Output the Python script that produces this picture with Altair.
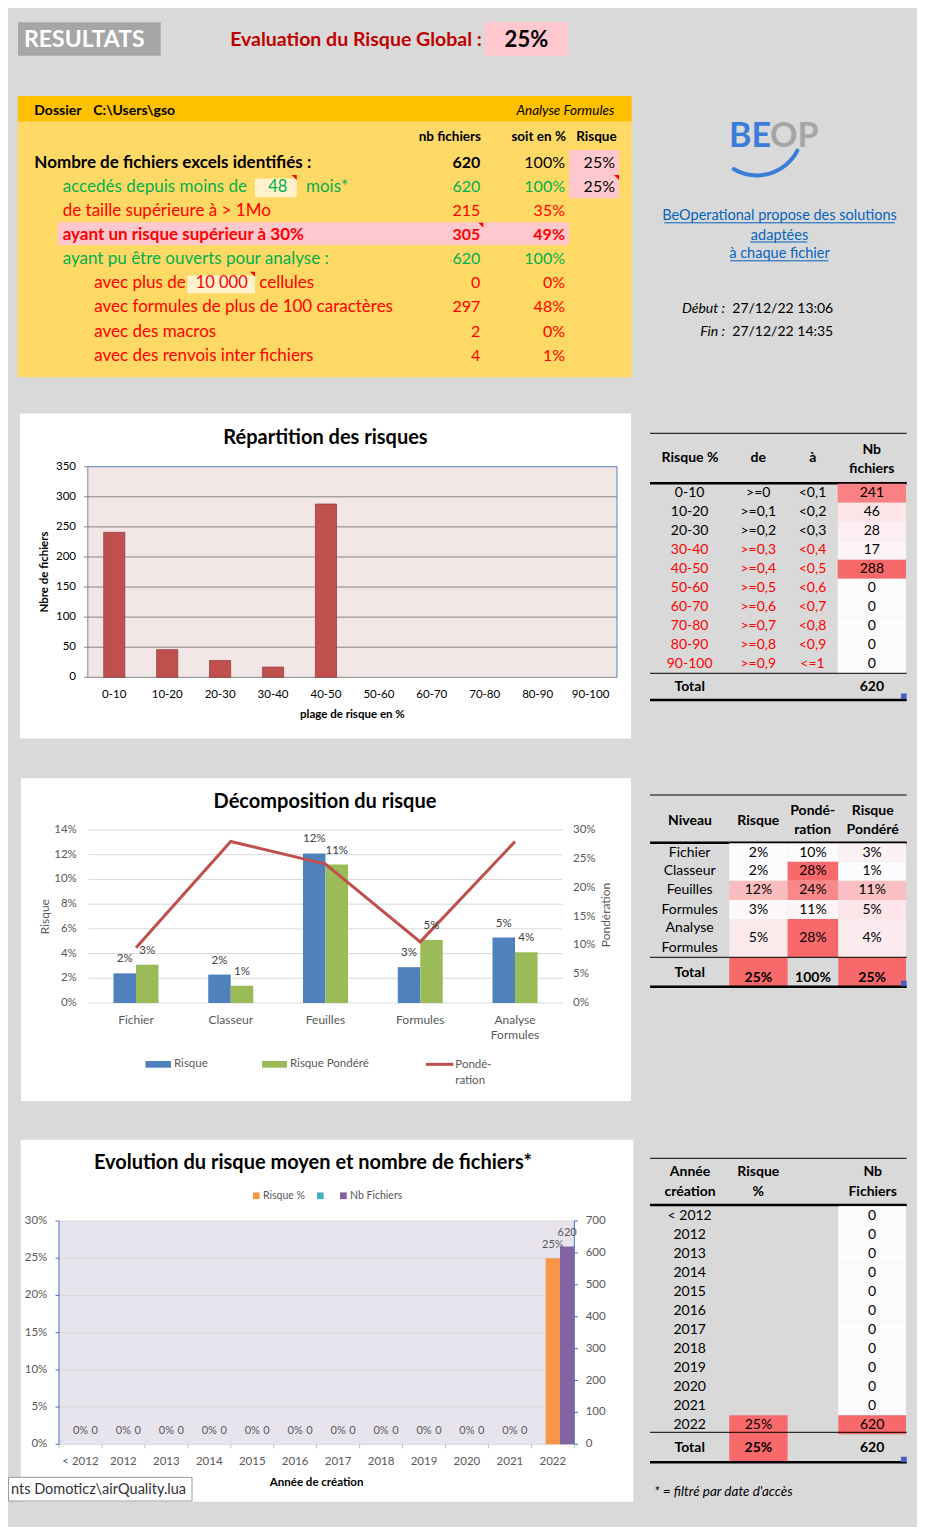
import altair as alt
import pandas as pd

# =============================== DATA ===============================
global_risk = [0.25]
dossier_path = ["C:\\Users\\gso"]
start_time = ["27/12/22 13:06"]
end_time = ["27/12/22 14:35"]

resume_label = ["Nombre de fichiers excels identifiés :", "accedés depuis moins de",
                "de taille supérieure à > 1Mo", "ayant un risque supérieur à 30%",
                "ayant pu être ouverts pour analyse :", "avec plus de",
                "avec formules de plus de 100 caractères", "avec des macros",
                "avec des renvois inter fichiers"]
resume_level = [0, 1, 1, 1, 1, 2, 2, 2, 2]
resume_kind = ["total", "ok", "alert", "alert", "ok", "alert", "alert", "alert", "alert"]
resume_nb = [620, 620, 215, 305, 620, 0, 297, 2, 4]
resume_pct = [1.0, 1.0, 0.347, 0.492, 1.0, 0.0, 0.479, 0.003, 0.006]
resume_risk = [0.25, 0.25, None, None, None, None, None, None, None]
months_input = ["48"]
cells_input = ["10 000"]

risk_bins = ["0-10", "10-20", "20-30", "30-40", "40-50", "50-60", "60-70", "70-80", "80-90", "90-100"]
bin_from = [">=0", ">=0,1", ">=0,2", ">=0,3", ">=0,4", ">=0,5", ">=0,6", ">=0,7", ">=0,8", ">=0,9"]
bin_to = ["<0,1", "<0,2", "<0,3", "<0,4", "<0,5", "<0,6", "<0,7", "<0,8", "<0,9", "<=1"]
bin_files = [241, 46, 28, 17, 288, 0, 0, 0, 0, 0]
bin_total = [620]
ticks1 = [0, 50, 100, 150, 200, 250, 300, 350]

levels = ["Fichier", "Classeur", "Feuilles", "Formules", "Analyse Formules"]
level_risk = [0.024, 0.023, 0.121, 0.029, 0.053]
level_weight = [0.096, 0.28, 0.241, 0.106, 0.28]
level_wrisk = [0.031, 0.014, 0.112, 0.051, 0.041]
level_total = [0.25, 1.0, 0.25]
ticks2_left = [0, 0.02, 0.04, 0.06, 0.08, 0.10, 0.12, 0.14]
ticks2_right = [0, 0.05, 0.10, 0.15, 0.20, 0.25, 0.30]
series2 = ["Risque", "Risque Pondéré"]

years = ["< 2012", "2012", "2013", "2014", "2015", "2016", "2017", "2018", "2019", "2020", "2021", "2022"]
year_risk = [0, 0, 0, 0, 0, 0, 0, 0, 0, 0, 0, 0.25]
year_files = [0, 0, 0, 0, 0, 0, 0, 0, 0, 0, 0, 620]
year_total = [0.25, 620]
ticks3_left = [0, 0.05, 0.10, 0.15, 0.20, 0.25, 0.30]
ticks3_right = [0, 100, 200, 300, 400, 500, 600, 700]
slots3 = ["·", "Risque %", "Nb Fichiers"]

# =============================== HELPERS ===============================
FONT = "Lato"
W, H = 909, 1519
XL_LO, XL_HI = "#fcfcff", "#f8696b"
ONE = pd.DataFrame({"k": [0]})


def px(v):
    return v - 8


def rect(x0, y0, x1, y1, color, **kw):
    return alt.Chart(ONE).mark_rect(color=color, **kw).encode(
        x=alt.value(px(x0)), x2=alt.value(px(x1)), y=alt.value(px(y0)), y2=alt.value(px(y1)))


def hline(x0, x1, y, color="#000000", w=1.0):
    return alt.Chart(ONE).mark_rule(color=color, strokeWidth=w).encode(
        x=alt.value(px(x0)), x2=alt.value(px(x1)), y=alt.value(px(y)))


def vline(x, y0, y1, color="#000000", w=1.0):
    return alt.Chart(ONE).mark_rule(color=color, strokeWidth=w).encode(
        x=alt.value(px(x)), y=alt.value(px(y0)), y2=alt.value(px(y1)))


def txt(s, x, y, size=14, color="#000000", bold=False, italic=False, align="left",
        baseline="middle", angle=None, lh=None):
    kw = dict(text=s, font=FONT, fontSize=size, color=color,
              fontWeight="bold" if bold else "normal",
              fontStyle="italic" if italic else "normal", align=align, baseline=baseline)
    if angle is not None:
        kw["angle"] = angle
    if lh is not None:
        kw["lineHeight"] = lh
    return alt.Chart(ONE).mark_text(**kw).encode(x=alt.value(px(x)), y=alt.value(px(y)))


def vtext(values, fmt, x, y, **kw):
    mk = dict(font=FONT, baseline="middle")
    mk.update(kw)
    return alt.Chart(pd.DataFrame({"v": values})).mark_text(**mk).encode(
        x=alt.value(px(x)), y=alt.value(px(y)),
        text=alt.Text("v:Q", format=fmt) if fmt else alt.Text("v:N"))


def tri(cx, cy):
    s = 5.0
    return alt.Chart(ONE).mark_point(shape="M -1 -1 L 1 -1 L 1 1 Z", size=s * s, filled=True,
                                     color="#ff0000", opacity=1, strokeWidth=0).encode(
        x=alt.value(px(cx - s / 2)), y=alt.value(px(cy + s / 2)))


def lin(domain, rng):
    return alt.Scale(domain=domain, range=[px(v) for v in rng], nice=False, zero=False)


def tcells(df, col, field, xs, ys, domain, filt=None):
    ch = alt.Chart(df)
    if filt:
        ch = ch.transform_filter(filt)
    return ch.transform_calculate(c0=str(col), c1=str(col + 1)).mark_rect().encode(
        x=alt.X("c0:Q", scale=xs, axis=None), x2="c1:Q",
        y=alt.Y("y0:Q", scale=ys, axis=None), y2="y1:Q",
        color=alt.Color(f"{field}:Q", scale=alt.Scale(domain=domain, range=[XL_LO, XL_HI],
                                                      interpolate="rgb"), legend=None))


def ttext(df, col, field, xs, ys, fmt=None, color="#000000", color_enc=None, bold=False,
          filt=None, dy=0, size=14, lines=False):
    ch = alt.Chart(df)
    if filt:
        ch = ch.transform_filter(filt)
    mk = dict(font=FONT, fontSize=size, fontWeight="bold" if bold else "normal",
              align="center", baseline="middle")
    if dy:
        mk["dy"] = dy
    if color_enc is None:
        mk["color"] = color
    if lines:
        mk["lineBreak"] = " "
        mk["lineHeight"] = 20
    enc = dict(x=alt.X("cx:Q", scale=xs, axis=None), y=alt.Y("yc:Q", scale=ys, axis=None),
               text=alt.Text(f"{field}:Q", format=fmt) if fmt else alt.Text(f"{field}:N"))
    if color_enc is not None:
        enc["color"] = color_enc
    return ch.transform_calculate(cx=str(col + 0.5)).mark_text(**mk).encode(**enc)


L = []

# =============================== HEADER ===============================
L += [
    rect(18.1, 22.3, 160.7, 55.7, "#a6a6a6"),
    txt("RESULTATS", 24, 40, size=23, color="#ffffff", bold=True),
    txt("Evaluation du Risque Global :", 230.2, 40, size=19.5, color="#c00000", bold=True),
    rect(484.2, 22.3, 568.5, 55.7, "#ffc7ce"),
    vtext(global_risk, ".0%", 526.4, 40, fontSize=22, fontWeight="bold", align="center", color="#000000"),
]

# =============================== YELLOW SUMMARY ===============================
L += [
    rect(17.7, 96, 631.7, 121.7, "#ffc000"),
    rect(17.7, 121.7, 631.7, 377.3, "#ffd966"),
    txt("Dossier", 34.3, 110.7, size=14, bold=True),
    vtext(dossier_path, None, 93.3, 110.7, fontSize=14, fontWeight="bold", align="left", color="#000000"),
    txt("Analyse Formules", 614.3, 110.7, size=13.5, italic=True, align="right"),
    txt("nb fichiers", 481, 137.3, size=13.5, bold=True, align="right"),
    txt("soit en %", 566, 137.3, size=13.5, bold=True, align="right"),
    txt("Risque", 616.7, 137.3, size=13.5, bold=True, align="right"),
]

res = pd.DataFrame({"i": list(range(9)), "label": resume_label, "level": resume_level,
                    "kind": resume_kind, "nb": resume_nb, "pct": resume_pct, "risk": resume_risk})
ys_r = lin([0, 8], [162.7, 355.7])
xs_l = lin([0, 1, 2], [34.3, 62.7, 94.3])
kind_col = alt.Color("kind:N", scale=alt.Scale(domain=["total", "ok", "alert"],
                                               range=["#000000", "#00b050", "#ff0000"]), legend=None)
BOLD = "indexof([0, 3], datum.i) >= 0"
NOTBOLD = "indexof([0, 3], datum.i) < 0"

L.append(alt.Chart(res).transform_filter("datum.i == 3").transform_calculate(
    y0="datum.i - 0.53", y1="datum.i + 0.41").mark_rect(color="#ffc7ce").encode(
    x=alt.value(px(57.7)), x2=alt.value(px(569)),
    y=alt.Y("y0:Q", scale=ys_r, axis=None), y2="y1:Q"))
L.append(alt.Chart(res).transform_filter("isValid(datum.risk)").transform_calculate(
    y0="datum.i - 0.53", y1="datum.i + 0.47").mark_rect(color="#ffc7ce").encode(
    x=alt.value(px(569)), x2=alt.value(px(619)),
    y=alt.Y("y0:Q", scale=ys_r, axis=None), y2="y1:Q"))

# input boxes
L += [rect(255, 178.5, 296.7, 197.3, "#fff2cc"), rect(187.3, 275.5, 255, 293.3, "#fff2cc")]

for filt, w in ((BOLD, "bold"), (NOTBOLD, "normal")):
    L.append(alt.Chart(res).transform_filter(filt).mark_text(
        font=FONT, fontSize=17, fontWeight=w, align="left", baseline="middle").encode(
        x=alt.X("level:Q", scale=xs_l, axis=None), y=alt.Y("i:Q", scale=ys_r, axis=None),
        text="label:N", color=kind_col))
    L.append(alt.Chart(res).transform_filter(filt).mark_text(
        font=FONT, fontSize=16, fontWeight=w, align="right", baseline="middle").encode(
        x=alt.value(px(480.3)), y=alt.Y("i:Q", scale=ys_r, axis=None),
        text=alt.Text("nb:Q", format="d"), color=kind_col))
for filt, w in (("datum.i == 3", "bold"), ("datum.i != 3", "normal")):
    L.append(alt.Chart(res).transform_filter(filt).mark_text(
        font=FONT, fontSize=16, fontWeight=w, align="right", baseline="middle").encode(
        x=alt.value(px(565)), y=alt.Y("i:Q", scale=ys_r, axis=None),
        text=alt.Text("pct:Q", format=".0%"), color=kind_col))
L.append(alt.Chart(res).transform_filter("isValid(datum.risk)").mark_text(
    font=FONT, fontSize=16, color="#000000", align="right", baseline="middle").encode(
    x=alt.value(px(615)), y=alt.Y("i:Q", scale=ys_r, axis=None),
    text=alt.Text("risk:Q", format=".0%")))

L += [
    vtext(months_input, None, 277.7, 187.3, fontSize=16.5, color="#00b050", align="center"),
    txt("mois*", 306, 187.3, size=17, color="#00b050"),
    vtext(cells_input, None, 221.7, 283.3, fontSize=16.5, color="#ff0000", align="center"),
    txt("cellules", 259.3, 283.3, size=17, color="#ff0000"),
    tri(296.7, 175), tri(255, 271.7), tri(483.3, 222.7), tri(619, 175),
]

# =============================== LOGO / LINKS ===============================
L += [
    alt.Chart(ONE).mark_arc(color="#3c7dd9", theta=2.0, theta2=3.72, radius=47.5, radius2=43.5,
                            cornerRadius=2).encode(x=alt.value(px(756.8)), y=alt.value(px(129.9))),
    txt("BE", 771, 147, size=34, color="#3c7dd9", bold=True, align="right", baseline="alphabetic"),
    txt("OP", 770, 147, size=34, color="#a5a5a5", bold=True, align="left", baseline="alphabetic"),
    txt("BeOperational propose des solutions ", 779.5, 216, size=14.5, color="#0563c1", align="center"),
    txt("adaptées", 779.5, 235.7, size=14.5, color="#0563c1", align="center"),
    txt("à chaque fichier", 779.5, 254.3, size=14.5, color="#0563c1", align="center"),
    hline(664.3, 895, 222.8, "#0563c1"),
    hline(750, 807.3, 242, "#0563c1"),
    hline(730, 828.3, 260.8, "#0563c1"),
    txt("Début :", 725, 308.7, size=14, italic=True, align="right"),
    vtext(start_time, None, 732.3, 308.7, fontSize=14, color="#000000", align="left"),
    txt("Fin :", 725, 331.7, size=14, italic=True, align="right"),
    vtext(end_time, None, 732.3, 331.7, fontSize=14, color="#000000", align="left"),
]

# =============================== CHART 1 ===============================
c1 = pd.DataFrame({"bin": risk_bins, "nb": bin_files})
t1df = pd.DataFrame({"v": ticks1})
x1s = alt.Scale(domain=risk_bins, range=[px(87.8), px(617)], paddingInner=0.6, paddingOuter=0.3)
y1s = lin([0, 350], [677.3, 466.7])
L += [
    rect(20, 413.5, 631, 738.5, "#ffffff"),
    rect(87.8, 466.7, 617, 677.3, "#f2e6e6"),
    alt.Chart(t1df).transform_filter("datum.v > 0 && datum.v < 350").mark_rule(
        color="#868686", strokeWidth=1).encode(
        y=alt.Y("v:Q", scale=y1s, axis=None), x=alt.value(px(87.8)), x2=alt.value(px(617))),
    alt.Chart(t1df).mark_rule(color="#868686", strokeWidth=1).encode(
        y=alt.Y("v:Q", scale=y1s, axis=None), x=alt.value(px(84)), x2=alt.value(px(87.8))),
    hline(87.8, 617, 466.7, "#4f81bd"),
    vline(617, 466.7, 677.3, "#4f81bd"),
    vline(87.8, 466.7, 677.3, "#868686"),
    hline(87.8, 617, 677.3, "#868686"),
    alt.Chart(t1df).mark_text(font=FONT, fontSize=11.5, align="right", baseline="middle",
                              color="#000000").encode(
        y=alt.Y("v:Q", scale=y1s, axis=None), x=alt.value(px(76)), text="v:Q"),
    alt.Chart(c1).transform_filter("datum.nb > 0").mark_bar(
        color="#c0504d", stroke="#8c3a37", strokeWidth=0.7).encode(
        x=alt.X("bin:N", scale=x1s, axis=None), y=alt.Y("nb:Q", scale=y1s, axis=None)),
    alt.Chart(c1).mark_text(font=FONT, fontSize=11.5, baseline="middle", color="#000000").encode(
        x=alt.X("bin:N", scale=x1s, axis=None), y=alt.value(px(695)), text="bin:N"),
    txt("Répartition des risques", 325.5, 437.7, size=20, bold=True, align="center"),
    txt("Nbre de fichiers", 44.7, 572, size=11.5, bold=True, align="center", angle=270),
    txt("plage de risque en %", 352.4, 715, size=11.5, bold=True, align="center"),
]

# =============================== TABLE 1 ===============================
xs_t1 = lin([0, 1, 2, 3, 4], [650, 729.3, 787.3, 837.7, 906])
ys_t1 = lin([0, 9], [493.3, 664.3])
t1 = pd.DataFrame({"yc": list(range(10)), "bin": risk_bins, "de": bin_from, "a": bin_to, "nb": bin_files})
t1["y0"] = t1["yc"] - 0.5
t1["y1"] = t1["yc"] + 0.5
t1["grp"] = ["high" if int(b.split("-")[0]) >= 30 else "low" for b in risk_bins]
grp_col = alt.Color("grp:N", scale=alt.Scale(domain=["low", "high"], range=["#000000", "#ff0000"]), legend=None)
t1tot = pd.DataFrame({"yc": [10.2], "lab": ["Total"], "v": bin_total})
L += [
    hline(650, 906.7, 433.3, w=1),
    txt("Risque %", 690, 458.3, bold=True, align="center"),
    txt("de", 758.3, 458.3, bold=True, align="center"),
    txt("à", 812.7, 458.3, bold=True, align="center"),
    txt(["Nb", "fichiers"], 871.7, 450, bold=True, align="center", lh=19),
    hline(650, 906.7, 483.3, w=2.5),
    tcells(t1, 3, "nb", xs_t1, ys_t1, [min(bin_files), max(bin_files)]),
    ttext(t1, 0, "bin", xs_t1, ys_t1, color_enc=grp_col),
    ttext(t1, 1, "de", xs_t1, ys_t1, color_enc=grp_col),
    ttext(t1, 2, "a", xs_t1, ys_t1, color_enc=grp_col),
    ttext(t1, 3, "nb", xs_t1, ys_t1),
    hline(650, 906.7, 673.3, w=1),
    ttext(t1tot, 0, "lab", xs_t1, ys_t1, bold=True),
    ttext(t1tot, 3, "v", xs_t1, ys_t1, bold=True),
    hline(650, 906.7, 700, w=2.5),
    rect(901, 693.5, 906.7, 699, "#4a5fc1"),
]

# =============================== CHART 2 ===============================
c2 = pd.DataFrame({"i": list(range(5)), "level": levels, "w": level_weight})
c2b = pd.DataFrame({"level": levels + levels, "serie": [series2[0]] * 5 + [series2[1]] * 5,
                    "v": level_risk + level_wrisk})
x2s = alt.Scale(domain=levels, range=[px(88.6), px(562.4)], paddingInner=0.525, paddingOuter=0.2625)
xo2s = alt.Scale(domain=series2, paddingInner=0, paddingOuter=0)
y2l = lin([0, 0.14], [1003, 830])
y2r = lin([0, 0.30], [1003, 830])
GR = "#595959"
L += [
    rect(21, 778.3, 631, 1101, "#ffffff"),
    alt.Chart(pd.DataFrame({"v": ticks2_left})).mark_rule(color="#d9d9d9", strokeWidth=1).encode(
        y=alt.Y("v:Q", scale=y2l, axis=None), x=alt.value(px(88.6)), x2=alt.value(px(562.4))),
    alt.Chart(pd.DataFrame({"v": ticks2_left})).mark_text(
        font=FONT, fontSize=11.5, color=GR, align="right", baseline="middle").encode(
        y=alt.Y("v:Q", scale=y2l, axis=None), x=alt.value(px(76.8)), text=alt.Text("v:Q", format=".0%")),
    alt.Chart(pd.DataFrame({"v": ticks2_right})).mark_text(
        font=FONT, fontSize=11.5, color=GR, align="left", baseline="middle").encode(
        y=alt.Y("v:Q", scale=y2r, axis=None), x=alt.value(px(573)), text=alt.Text("v:Q", format=".0%")),
    alt.Chart(c2b).mark_bar().encode(
        x=alt.X("level:N", scale=x2s, axis=None), xOffset=alt.XOffset("serie:N", scale=xo2s),
        y=alt.Y("v:Q", scale=y2l, axis=None),
        color=alt.Color("serie:N", scale=alt.Scale(domain=series2, range=["#4f81bd", "#9bbb59"]), legend=None)),
    alt.Chart(c2).mark_line(color="#c0504d", strokeWidth=3).encode(
        x=alt.X("level:N", scale=x2s, axis=None), y=alt.Y("w:Q", scale=y2r, axis=None), order="i:Q"),
]
for s_name, shift in ((series2[0], -11.25), (series2[1], 11.25)):
    L.append(alt.Chart(c2b).transform_filter(alt.datum.serie == s_name).mark_text(
        font=FONT, fontSize=11.5, color="#404040", dx=shift, dy=-14, baseline="middle").encode(
        x=alt.X("level:N", scale=x2s, axis=None),
        y=alt.Y("v:Q", scale=y2l, axis=None), text=alt.Text("v:Q", format=".0%")))
L += [
    alt.Chart(c2).mark_text(font=FONT, fontSize=12, color=GR, baseline="top", lineBreak=" ",
                            lineHeight=15.7).encode(
        x=alt.X("level:N", scale=x2s, axis=None), y=alt.value(px(1014.5)), text="level:N"),
    txt("Décomposition du risque", 325, 801.7, size=20, bold=True, align="center"),
    txt("Risque", 44.7, 916.7, size=12, color=GR, align="center", angle=270),
    txt("Pondération", 606, 915, size=12, color=GR, align="center", angle=270),
    rect(145.5, 1061, 171, 1067.7, "#4f81bd"),
    txt("Risque", 174, 1064.3, size=11.5, color=GR),
    rect(262, 1061, 287, 1067.7, "#9bbb59"),
    txt("Risque Pondéré", 290, 1064.3, size=11.5, color=GR),
    hline(426, 453.4, 1064.3, "#c0504d", 3),
    txt(["Pondé-", "ration"], 455.3, 1064.6, size=11.5, color=GR, lh=16.3),
]

# =============================== TABLE 2 ===============================
xs_t2 = lin([0, 1, 2, 3, 4], [650, 729.3, 787.6, 838.3, 906])
ys_t2 = lin([0, 1, 2, 3, 4, 5, 6], [843.3, 861.7, 880.7, 900, 919, 957.3, 986.3])
t2 = pd.DataFrame({"r": list(range(5)), "level": levels, "risk": level_risk, "w": level_weight, "wr": level_wrisk})
t2tot = pd.DataFrame({"r": [5], "level": ["Total"], "risk": [level_total[0]], "w": [level_total[1]],
                      "wr": [level_total[2]]})
t2all = pd.concat([t2, t2tot], ignore_index=True)
for d in (t2, t2tot, t2all):
    d["y0"] = d["r"]
    d["y1"] = d["r"] + 1
    d["yc"] = d["r"] + 0.5
risk_all = level_risk + [level_total[0]]
wr_all = level_wrisk + [level_total[2]]
L += [
    hline(650, 906.7, 795, w=1),
    txt("Niveau", 690, 820.7, bold=True, align="center"),
    txt("Risque", 758.3, 820.7, bold=True, align="center"),
    txt(["Pondé-", "ration"], 812.7, 810.7, bold=True, align="center", lh=19.5),
    txt(["Risque", "Pondéré"], 872.7, 810.7, bold=True, align="center", lh=19.5),
    hline(650, 906.7, 842.7, w=2.5),
    tcells(t2all, 1, "risk", xs_t2, ys_t2, [min(risk_all), max(risk_all)]),
    tcells(t2, 2, "w", xs_t2, ys_t2, [min(level_weight), max(level_weight)]),
    tcells(t2all, 3, "wr", xs_t2, ys_t2, [min(wr_all), max(wr_all)]),
    ttext(t2, 0, "level", xs_t2, ys_t2, filt="indexof(datum.level, ' ') < 0"),
    ttext(t2, 0, "level", xs_t2, ys_t2, filt="indexof(datum.level, ' ') >= 0", lines=True, dy=-10),
    ttext(t2, 1, "risk", xs_t2, ys_t2, fmt=".0%"),
    ttext(t2, 2, "w", xs_t2, ys_t2, fmt=".0%"),
    ttext(t2, 3, "wr", xs_t2, ys_t2, fmt=".0%"),
    hline(650, 906.7, 957.3, w=1),
    ttext(t2tot, 0, "level", xs_t2, ys_t2, bold=True, dy=1.5),
    ttext(t2tot, 1, "risk", xs_t2, ys_t2, fmt=".0%", bold=True, dy=6),
    ttext(t2tot, 2, "w", xs_t2, ys_t2, fmt=".0%", bold=True, dy=6),
    ttext(t2tot, 3, "wr", xs_t2, ys_t2, fmt=".0%", bold=True, dy=6),
    hline(650, 906.7, 986.7, w=2.5),
    rect(901, 980.7, 906.7, 986.2, "#4a5fc1"),
]

# =============================== CHART 3 ===============================
c3 = pd.DataFrame({"year": years, "risk": year_risk, "nb": year_files})
x3s = alt.Scale(domain=years, range=[px(59), px(574.3)], paddingInner=0, paddingOuter=0)
xo3s = alt.Scale(domain=slots3, paddingInner=0, paddingOuter=0)
y3l = lin([0, 0.30], [1444.3, 1221])
y3r = lin([0, 700], [1444.3, 1221])
SLOT = 515.3 / 12 / 3
L += [
    rect(20.7, 1139.7, 633.3, 1501.7, "#ffffff"),
    rect(59, 1221, 574.3, 1444.3, "#e8e4ee"),
    alt.Chart(pd.DataFrame({"v": ticks3_left})).transform_filter("datum.v > 0").mark_rule(
        color="#d9d9d9", strokeWidth=1).encode(
        y=alt.Y("v:Q", scale=y3l, axis=None), x=alt.value(px(59)), x2=alt.value(px(574.3))),
    hline(59, 574.3, 1444.3, "#d9d9d9"),
    alt.Chart(c3).mark_rule(color="#bfbfbf", strokeWidth=1).encode(
        x=alt.X("year:N", scale=x3s, axis=None, bandPosition=0),
        y=alt.value(px(1444.3)), y2=alt.value(px(1448.5))),
    vline(574.3, 1444.3, 1448.5, "#bfbfbf"),
    vline(59, 1221, 1444.3, "#4472c4"),
    vline(574.3, 1221, 1444.3, "#4472c4"),
    alt.Chart(pd.DataFrame({"v": ticks3_left})).mark_rule(color="#4472c4", strokeWidth=1).encode(
        y=alt.Y("v:Q", scale=y3l, axis=None), x=alt.value(px(55.5)), x2=alt.value(px(59))),
    alt.Chart(pd.DataFrame({"v": ticks3_right})).mark_rule(color="#4472c4", strokeWidth=1).encode(
        y=alt.Y("v:Q", scale=y3r, axis=None), x=alt.value(px(574.3)), x2=alt.value(px(578))),
    alt.Chart(pd.DataFrame({"v": ticks3_left})).mark_text(
        font=FONT, fontSize=11.5, color=GR, align="right", baseline="middle").encode(
        y=alt.Y("v:Q", scale=y3l, axis=None), x=alt.value(px(47.3)), text=alt.Text("v:Q", format=".0%")),
    alt.Chart(pd.DataFrame({"v": ticks3_right})).mark_text(
        font=FONT, fontSize=11.5, color=GR, align="left", baseline="middle").encode(
        y=alt.Y("v:Q", scale=y3r, axis=None), x=alt.value(px(585.7)), text="v:Q"),
    alt.Chart(c3).transform_calculate(s='"Risque %"').mark_bar(color="#f79646").encode(
        x=alt.X("year:N", scale=x3s, axis=None), xOffset=alt.XOffset("s:N", scale=xo3s),
        y=alt.Y("risk:Q", scale=y3l, axis=None)),
    alt.Chart(c3).transform_calculate(s='"Nb Fichiers"').mark_bar(color="#8064a2").encode(
        x=alt.X("year:N", scale=x3s, axis=None), xOffset=alt.XOffset("s:N", scale=xo3s),
        y=alt.Y("nb:Q", scale=y3r, axis=None)),
    alt.Chart(c3).mark_text(font=FONT, fontSize=11, color=GR, dy=-13.5, baseline="middle").encode(
        x=alt.X("year:N", scale=x3s, axis=None),
        y=alt.Y("risk:Q", scale=y3l, axis=None), text=alt.Text("risk:Q", format=".0%")),
    alt.Chart(c3).mark_text(font=FONT, fontSize=11, color=GR, dx=SLOT, dy=-13.5, baseline="middle").encode(
        x=alt.X("year:N", scale=x3s, axis=None),
        y=alt.Y("nb:Q", scale=y3r, axis=None), text="nb:Q"),
    alt.Chart(c3).mark_text(font=FONT, fontSize=11.5, color=GR, baseline="middle").encode(
        x=alt.X("year:N", scale=x3s, axis=None), y=alt.value(px(1462.3)), text="year:N"),
    txt("Evolution du risque moyen et nombre de fichiers*", 313, 1162.7, size=20, bold=True, align="center"),
    txt("Année de création", 316.6, 1482.7, size=11.5, bold=True, align="center"),
    rect(253, 1192.4, 259.7, 1199.1, "#f79646"),
    txt("Risque %", 263, 1195.7, size=10.5, color=GR),
    rect(317, 1192.4, 323.7, 1199.1, "#4bacc6"),
    rect(340, 1192.4, 346.7, 1199.1, "#8064a2"),
    txt("Nb Fichiers", 350, 1195.7, size=10.5, color=GR),
]

# =============================== TABLE 3 ===============================
xs_t3 = lin([0, 1, 2, 3, 4], [650, 729.3, 787.6, 838.3, 906])
ys_t3 = lin([0, 11], [1215.7, 1424.7])
t3 = pd.DataFrame({"yc": list(range(12)), "year": years, "risk": year_risk, "nb": year_files})
t3["y0"] = t3["yc"] - 0.5
t3["y1"] = t3["yc"] + 0.5
t3tot = pd.DataFrame({"yc": [12.2], "y0": [11.45], "y1": [12.97], "lab": ["Total"],
                      "risk": [year_total[0]], "nb": [year_total[1]]})
L += [
    hline(650, 906.7, 1158.3, w=1),
    txt(["Année", "création"], 690, 1172.3, bold=True, align="center", lh=20),
    txt(["Risque", "%"], 758.3, 1172.3, bold=True, align="center", lh=20),
    txt(["Nb", "Fichiers"], 872.7, 1172.3, bold=True, align="center", lh=20),
    hline(650, 906.7, 1205, w=2.5),
    tcells(t3, 3, "nb", xs_t3, ys_t3, [min(year_files), max(year_files)]),
    tcells(t3, 1, "risk", xs_t3, ys_t3, [0, max(year_risk)], filt="datum.nb > 0"),
    tcells(t3tot, 1, "risk", xs_t3, ys_t3, [0, max(year_risk)]),
    ttext(t3, 0, "year", xs_t3, ys_t3),
    ttext(t3, 1, "risk", xs_t3, ys_t3, fmt=".0%", filt="datum.nb > 0"),
    ttext(t3, 3, "nb", xs_t3, ys_t3),
    hline(650, 906.7, 1432.3, w=1),
    ttext(t3tot, 0, "lab", xs_t3, ys_t3, bold=True),
    ttext(t3tot, 1, "risk", xs_t3, ys_t3, fmt=".0%", bold=True),
    ttext(t3tot, 3, "nb", xs_t3, ys_t3, bold=True),
    hline(650, 906.7, 1462.3, w=2.5),
    rect(901, 1456.7, 906.7, 1462, "#4a5fc1"),
    txt("* = filtré par date d'accès", 654.3, 1492.3, size=13.5, italic=True),
]

# =============================== TOOLTIP ARTEFACT ===============================
L += [
    rect(8.5, 1477.3, 192, 1501, "#ffffff", stroke="#9a9a9a", strokeWidth=1),
    txt("nts Domoticz\\airQuality.lua", 11, 1489.5, size=14.5, color="#333333"),
]

chart = alt.layer(*L).resolve_scale(
    x="independent", y="independent", color="independent", xOffset="independent"
).properties(
    width=W, height=H, background="#d9d9d9", padding=0,
    autosize=alt.AutoSizeParams(type="none")
).configure_view(strokeWidth=0)

chart.save("out.html", embed_options={"renderer": "svg", "actions": False})
